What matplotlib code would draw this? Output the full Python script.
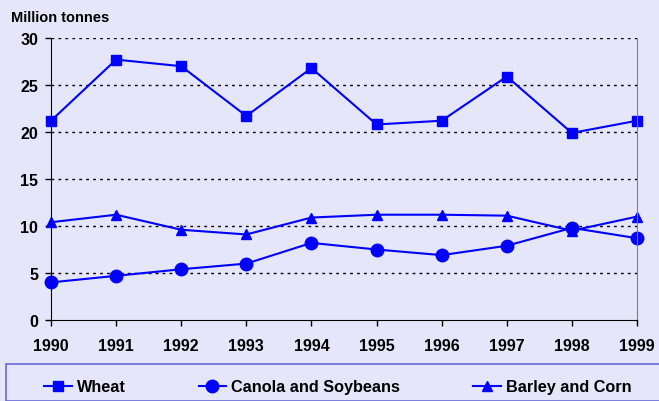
import matplotlib.pyplot as plt
from matplotlib.patches import Rectangle

years = [1990, 1991, 1992, 1993, 1994, 1995, 1996, 1997, 1998, 1999]
wheat = [21.2, 27.7, 27.0, 21.7, 26.8, 20.8, 21.2, 25.9, 19.9, 21.2]
canola_soy = [4.0, 4.7, 5.4, 6.0, 8.2, 7.5, 6.9, 7.9, 9.8, 8.7]
barley_corn = [10.4, 11.2, 9.6, 9.1, 10.9, 11.2, 11.2, 11.1, 9.5, 11.0]
y_ticks = [0, 5, 10, 15, 20, 25, 30]

BG = "#E6E6FA"
BLUE = "#0000FF"

plt.rcParams["font.family"] = ["Liberation Sans", "DejaVu Sans"]
plt.rcParams["font.weight"] = "bold"

fig = plt.figure(figsize=(6.59, 4.02), dpi=100, facecolor=BG)
ax = fig.add_axes([51 / 659, 1 - 321 / 402, 586 / 659, 282 / 402])
ax.set_facecolor(BG)

l1, = ax.plot(years, wheat, color=BLUE, lw=1.5, marker="s", ms=7.5)
l2, = ax.plot(years, canola_soy, color=BLUE, lw=1.5, marker="o", ms=9)
l3, = ax.plot(years, barley_corn, color=BLUE, lw=1.5, marker="^", ms=7)

ax.set_xlim(1990, 1999)
ax.set_ylim(0, 30)
ax.set_xticks(years)
ax.set_yticks(y_ticks)
ax.tick_params(axis="both", labelsize=11.5, length=4.3, width=1)
ax.tick_params(axis="x", pad=9)
ax.tick_params(axis="y", pad=5)
for lab in ax.get_xticklabels() + ax.get_yticklabels():
    lab.set_fontweight("bold")

for y in y_ticks[1:]:
    ax.axhline(y, color="black", lw=1, ls=(0, (2, 3)), zorder=0)
ax.spines["top"].set_visible(False)
ax.spines["right"].set_color("#808080")
ax.spines["left"].set_color("black")
ax.spines["bottom"].set_color("black")
for l in (l1, l2, l3):
    l.set_clip_on(False)

fig.text(11 / 659, 1 - 18 / 402, "Million tonnes", fontsize=10.5,
         fontweight="bold", va="center", ha="left")

# legend box at the bottom
fig.patches.append(Rectangle((6 / 659, 0), 1, 1 - 365 / 402,
                             transform=fig.transFigure, facecolor=BG,
                             edgecolor="#6A6AD8", lw=1.2, clip_on=False))
fig.legend([l1, l2, l3], ["Wheat", "Canola and Soybeans", "Barley and Corn"],
           loc="center left", bbox_to_anchor=(44 / 659, 1 - 388 / 402),
           ncol=3, frameon=False, handlelength=1.7,
           handletextpad=0.3, columnspacing=4.5, borderaxespad=0,
           borderpad=0, prop={"weight": "bold", "size": 11.7})

fig.savefig("out.png", dpi=100, facecolor=BG)
